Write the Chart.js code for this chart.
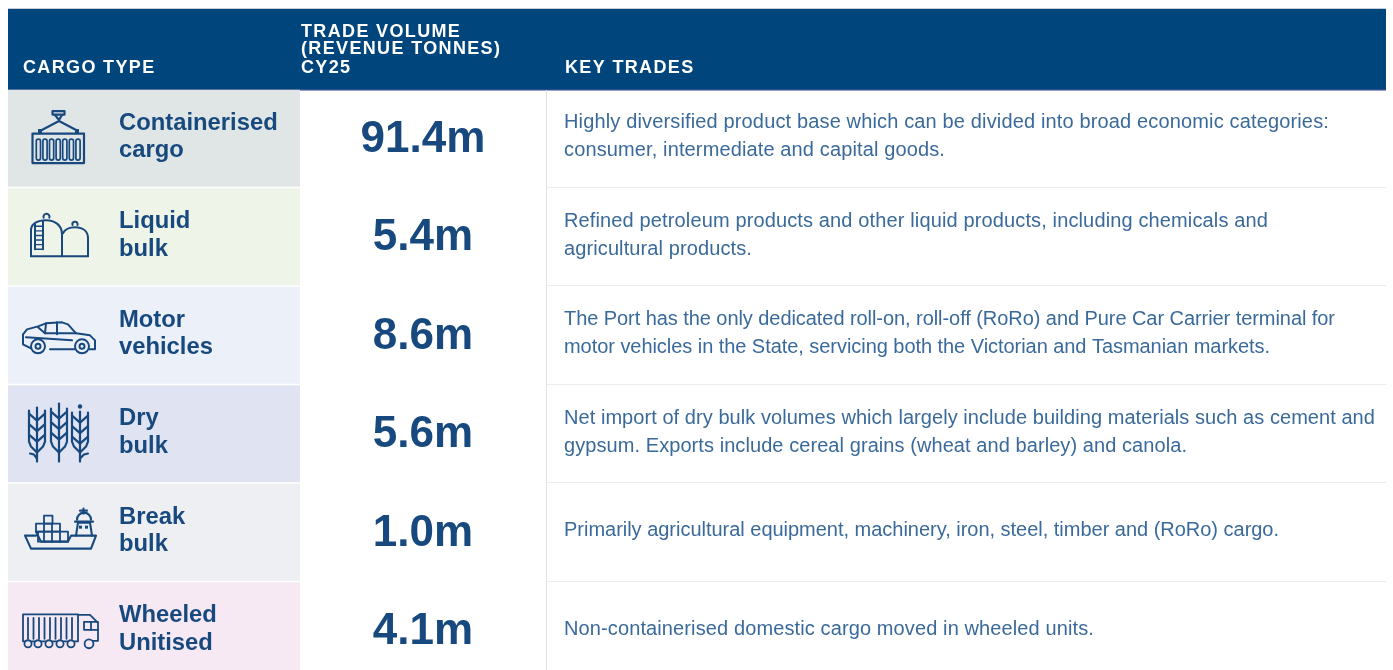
<!DOCTYPE html>
<html>
<head>
<meta charset="utf-8">
<title>Cargo types and trade volume</title>
<script src="https://cdn.jsdelivr.net/npm/chart.js@4"></script>
<style>
  html, body { margin:0; padding:0; background:#fff; overflow:hidden; height:670px; }
  #chart { display:block; }
</style>
</head>
<body>
<canvas id="chart" width="1393" height="680"></canvas>
<script>
// table content
const categories = [['Containerised','cargo'],['Liquid','bulk'],['Motor','vehicles'],['Dry','bulk'],['Break','bulk'],['Wheeled','Unitised']];
const tradeVolume = [91.4, 5.4, 8.6, 5.6, 1.0, 4.1];
const keyTrades = [
  ['Highly diversified product base which can be divided into broad economic categories:','consumer, intermediate and capital goods.'],
  ['Refined petroleum products and other liquid products, including chemicals and','agricultural products.'],
  ['The Port has the only dedicated roll-on, roll-off (RoRo) and Pure Car Carrier terminal for','motor vehicles in the State, servicing both the Victorian and Tasmanian markets.'],
  ['Net import of dry bulk volumes which largely include building materials such as cement and','gypsum. Exports include cereal grains (wheat and barley) and canola.'],
  ['Primarily agricultural equipment, machinery, iron, steel, timber and (RoRo) cargo.'],
  ['Non-containerised domestic cargo moved in wheeled units.']
];
const headerCargo = 'CARGO TYPE';
const headerVolume = ['TRADE VOLUME','(REVENUE TONNES)','CY25'];
const headerTrades = 'KEY TRADES';
const rowColors = ['#e0e6e6','#eff4e9','#ecf0f9','#e0e3f2','#eeeff2','#f6e9f3'];

const NAVY = '#00457c', INK = '#17497f', BODY = '#3a6a9b';
const FONT = '"Liberation Sans", Arial, sans-serif';
// right edge of each key trades line, the fallback font runs a little off
const lineEnds = [[1329,945],[1268,752],[1335,1270],[1375,1187],[1279],[1094]];

// icons are drawn in page coords for the row centre they were read at
function circle(c, x, y, r){ c.beginPath(); c.arc(x, y, r, 0, Math.PI*2); c.stroke(); }
function poly(c, pts){ c.beginPath(); pts.forEach((p,i)=> i ? c.lineTo(p[0],p[1]) : c.moveTo(p[0],p[1])); c.stroke(); }

const icons = [
  function container(c){
    c.lineWidth = 2.2;
    c.strokeRect(32.5,133.5,51.5,29.5);
    c.strokeRect(52.5,111,12,3.5);
    poly(c,[[55,115],[59,120],[62,115]]);
    poly(c,[[40,131],[59,121],[78,131]]);
    c.fillStyle = INK; c.fillRect(38,129,4,4); c.fillRect(75,129,4,4);
    c.lineWidth = 1.7;
    for (let i=0;i<7;i++){
      c.beginPath(); c.roundRect(36.3+i*6.6,139,4.2,21,2); c.stroke();
    }
  },
  function tanks(c){
    c.lineWidth = 2;
    c.beginPath(); c.moveTo(31,256); c.lineTo(31,230); c.bezierCurveTo(31,223,38,220,46,220); c.bezierCurveTo(55,220,62,225,62,234); c.lineTo(62,256); c.stroke();
    c.beginPath(); c.moveTo(63,233); c.bezierCurveTo(65,229,70,227,75,227); c.bezierCurveTo(84,227,88,232,88,238); c.lineTo(88,256); c.stroke();
    poly(c,[[31,256],[88,256]]);
    c.beginPath(); c.arc(46.5,216.5,3,Math.PI*0.9,Math.PI*2.1); c.stroke();
    c.beginPath(); c.arc(75,224,2.6,Math.PI*0.9,Math.PI*2.1); c.stroke();
    poly(c,[[35,224],[35,249]]); poly(c,[[43,221],[43,249]]);
    c.lineWidth = 1.4;
    for (let y=226;y<249;y+=4.6) poly(c,[[35,y],[43,y]]);
  },
  function car(c){
    c.lineWidth = 2;
    poly(c,[[31,348],[23,344],[23,334],[27,329],[38,326],[46,323],[62,322],[68,324],[76,333],[90,335],[95,340],[95,349],[89,349]]);
    poly(c,[[26,337],[72,340]]);
    poly(c,[[50,349],[75,349]]);
    poly(c,[[46,323],[45,333]]); poly(c,[[57,322],[57,334]]);
    poly(c,[[38,327],[45,333],[76,333]]);
    circle(c,38,346,7); circle(c,38,346,2.5);
    circle(c,82,346,7); circle(c,82,346,2.5);
  },
  function wheat(c){
    c.lineWidth = 2.2;
    [[37,407,410],[59,403,408],[80,411,412]].forEach(s=>{
      const x = s[0];
      poly(c,[[x,s[1]],[x,461]]);
      poly(c,[[x-8,s[2]],[x-8,441],[x-6,446],[x,452]]);
      poly(c,[[x+8,s[2]],[x+8,441],[x+6,446],[x,452]]);
      for (let y=s[2]+3;y<440;y+=10.5){
        poly(c,[[x-8,y],[x,y+7],[x+8,y]]);
      }
    });
    c.beginPath(); c.arc(80,406,2.2,0,Math.PI*2); c.fillStyle = INK; c.fill();
    poly(c,[[30,453],[34,454],[37,458]]);
    poly(c,[[88,453],[84,454],[80,458]]);
  },
  function ship(c){
    c.lineWidth = 2.1;
    poly(c,[[36,535],[25,535],[31,548],[91,548],[96,535],[71,535],[68,541],[41,541],[36,531]]);
    c.lineWidth = 1.8;
    c.strokeRect(44,515,8.5,8);
    c.strokeRect(36,523,24,8);
    c.strokeRect(38,531,30,10);
    [44,52,60].forEach(x=>poly(c,[[x,531],[x,541]]));
    poly(c,[[44,523],[44,531]]); poly(c,[[52,523],[52,531]]);
    c.lineWidth = 2.1;
    poly(c,[[76,535],[78,522],[90,522],[92,535]]);
    poly(c,[[75,521],[93,521]]);
    c.beginPath(); c.arc(84,519,7,Math.PI,0); c.stroke();
    poly(c,[[83.5,508],[83.5,513]]); poly(c,[[80,510],[87,510]]);
    c.fillStyle = INK; c.fillRect(79,525,3,3); c.fillRect(85,525,3,3);
  },
  function truck(c){
    c.lineWidth = 1.8;
    c.strokeRect(23,613.5,55,27);
    for (let i=0;i<9;i++) poly(c,[[28+i*5.5,617],[28+i*5.5,638]]);
    poly(c,[[78,614],[90,614],[98,622],[98,640],[93,640]]);
    c.strokeRect(84,621,7,8);
    poly(c,[[91,621],[98,621]]); poly(c,[[91,629],[98,629]]);
    [28,38,49,60,71].forEach(x=>{
      c.save(); c.fillStyle = rowColors[5]; c.beginPath(); c.arc(x,643,3.6,0,Math.PI*2); c.fill(); c.stroke(); c.restore();
    });
    c.save(); c.fillStyle = rowColors[5]; c.beginPath(); c.arc(89,643,4.4,0,Math.PI*2); c.fill(); c.stroke(); c.restore();
  }
];
// row centres the icons above were traced at
const iconBase = [138.2,236.5,334.9,433.2,531.6,629.9];

const tablePlugin = {
  id:'tablePlugin',
  beforeDatasetsDraw(chart){
    const c = chart.ctx, y = chart.scales.y;
    const step = y.getPixelForValue(1)-y.getPixelForValue(0);
    c.save();
    // header band
    c.fillStyle = '#c6d0da'; c.fillRect(8,8,1378,1);
    c.fillStyle = NAVY; c.fillRect(8,9,1378,80);
    c.fillStyle = '#2c4a8e'; c.fillRect(8,89,1378,1.5);
    // rules of the key trades column
    c.fillStyle = '#dde1e5'; c.fillRect(546,90,1,590);
    c.fillStyle = '#eaecee';
    categories.forEach((_,i)=>{
      const yy = Math.round(y.getPixelForValue(i)+step/2-1);
      c.fillRect(547,yy,839,1);
    });
    c.restore();
  },
  afterDatasetsDraw(chart){
    const c = chart.ctx, y = chart.scales.y;
    c.save();
    c.textBaseline = 'middle';
    // header text
    c.fillStyle = '#fff'; c.font = 'bold 18px '+FONT; c.letterSpacing = '1.35px';
    c.fillText(headerCargo,23,68.5);
    c.fillText(headerTrades,565,68.5);
    c.fillText(headerVolume[0],301,32);
    c.fillText(headerVolume[1],301,49.5);
    c.fillText(headerVolume[2],301,68.5);
    c.letterSpacing = '0px';
    categories.forEach((_,i)=>{
      const cy = y.getPixelForValue(i);
      // volume
      c.fillStyle = INK; c.textAlign = 'center';
      c.font = 'bold 44px '+FONT;
      c.fillText(tradeVolume[i].toFixed(1)+'m',423,cy+1.5);
      // key trades
      c.fillStyle = BODY; c.textAlign = 'left';
      c.font = '20px '+FONT;
      const lines = keyTrades[i];
      lines.forEach((t,k)=>{
        c.letterSpacing = '0px';
        const gap = (lineEnds[i][k]-564-c.measureText(t).width)/t.length;
        c.letterSpacing = gap.toFixed(3)+'px';
        c.fillText(t,564,cy-1.5+(k-(lines.length-1)/2)*28);
      });
      c.letterSpacing = '0px';
      // icon
      c.save();
      c.translate(0,cy-iconBase[i]);
      c.strokeStyle = INK; c.lineJoin = 'round'; c.lineCap = 'round';
      icons[i](c);
      c.restore();
    });
    c.restore();
  }
};

new Chart(document.getElementById('chart').getContext('2d'), {
  type:'bar',
  data:{
    labels:categories,
    datasets:[{
      label:'Cargo type',
      data:categories.map(()=>[8,300]),
      backgroundColor:rowColors,
      borderWidth:0,
      borderSkipped:false,
      categoryPercentage:1,
      barPercentage:0.985
    }]
  },
  options:{
    indexAxis:'y',
    responsive:false,
    animation:false,
    layout:{ padding:{ top:89 } },
    plugins:{ legend:{display:false}, tooltip:{enabled:false}, title:{display:false} },
    scales:{
      x:{ type:'linear', min:0, max:1393, display:false },
      y:{
        // mirrored labels sit inside the plot, so the axis takes no room
        afterFit(s){ s.width = 0; s.paddingTop = 0; s.paddingBottom = 0; },
        grid:{display:false},
        border:{display:false},
        ticks:{
          mirror:true, padding:119, labelOffset:-1.5, autoSkip:false, z:1,
          color:INK,
          font:{ family:FONT, size:23.8, weight:'bold', lineHeight:1.15 }
        }
      }
    }
  },
  plugins:[tablePlugin]
});
</script>
</body>
</html>
